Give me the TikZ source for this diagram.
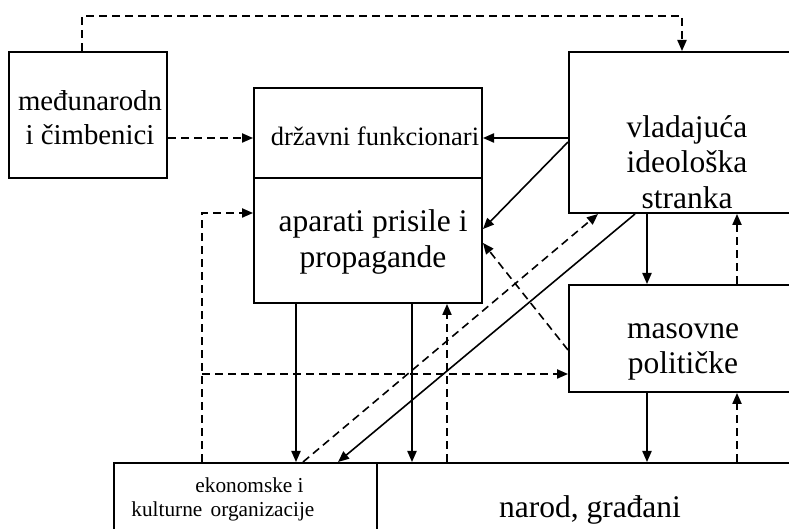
\documentclass[tikz,border=0pt]{standalone}
\usepackage{fontspec}
\setmainfont{Liberation Serif}
\usetikzlibrary{arrows.meta,fit}

\tikzset{
  box/.style={draw,line width=1pt,inner sep=0pt,rectangle},
  txt/.style={align=center,inner sep=0pt,font=\fontsize{15.75}{17.75}\selectfont},
  pijl/.style={-{Triangle[length=5.5pt,width=4.6pt]},line width=0.8pt},
  crtano/.style={pijl,dash pattern=on 4pt off 2.5pt},
}

\begin{document}
\begin{tikzpicture}[x=0.5pt,y=-0.5pt]
                \useasboundingbox (0,0) rectangle (789,529);
                \clip (0,0) rectangle (789,529);
                % okviri
                \node[box,fit={(9,52) (167,178)}] (medj) {};
                \node[box,fit={(254,88) (482,178)}] (drz) {};
                \node[box,fit={(254,178) (482,303)}] (apar) {};
                \node[box,fit={(569,52) (805,213)}] (vlad) {};
                \node[box,fit={(569,285) (805,392)}] (mas) {};
                \node[box,fit={(114,463) (377,545)}] (ekon) {};
                \node[box,fit={(377,463) (805,553)}] (narod) {};
                % tekstovi
                \node[txt,font=\fontsize{14.4}{17}\selectfont] (medjT) at (90,118) {međunarodn\\i čimbenici};
                \node[txt,font=\fontsize{13.25}{16}\selectfont] (drzT) at (375,136) {državni funkcionari};
                \node[txt,font=\fontsize{15.75}{18}\selectfont] (aparT) at (373,242) {aparati prisile i\\propagande};
                \node[txt] (vladT) at (687,162) {vladajuća\\ideološka\\stranka};
                \node[txt] (masT) at (683,352) {masovne\\političke};
                \node[txt,anchor=base] (narodT) at (590,518) {narod, građani};
                \node[txt,align=left,anchor=west,font=\fontsize{10.65}{12}\selectfont] (ekonT) at (131,499) {\hspace*{32pt}ekonomske i\\kulturne\hspace{1.5pt} organizacije};
                % veze
                \draw[crtano] (medj.north -| 82,0) |- (682,16) -- (vlad.north -| 682,0);
                \draw[crtano] (medj.east |- 0,138) -- (drz.west |- 0,138);
                \draw[pijl] (vlad.west |- 0,138) -- (drz.east |- 0,138);
                \draw[pijl] (vlad.west |- 0,142) -- (apar.east |- 0,229);
                \draw[crtano] (mas.west |- 0,350) -- (apar.east |- 0,243);
                \draw[crtano] (ekon.north -| 303,0) -- (vlad.south -| 598,0);
                \draw[pijl] (vlad.south -| 635,0) -- (ekon.north -| 338,0);
                \draw[pijl] (vlad.south -| 647,0) -- (mas.north -| 647,0);
                \draw[crtano] (mas.north -| 737,0) -- (vlad.south -| 737,0);
                \draw[pijl] (mas.south -| 647,0) -- (narod.north -| 647,0);
                \draw[crtano] (narod.north -| 737,0) -- (mas.south -| 737,0);
                \draw[pijl] (apar.south -| 296,0) -- (ekon.north -| 296,0);
                \draw[pijl] (apar.south -| 412,0) -- (narod.north -| 412,0);
                \draw[crtano] (narod.north -| 447,0) -- (apar.south -| 447,0);
                \coordinate (grana) at (202,374);
                \draw[crtano] (ekon.north -| grana) -- (grana) |- (apar.west |- 0,213);
                \draw[crtano] (grana) -- (mas.west |- grana);
\end{tikzpicture}
\end{document}
